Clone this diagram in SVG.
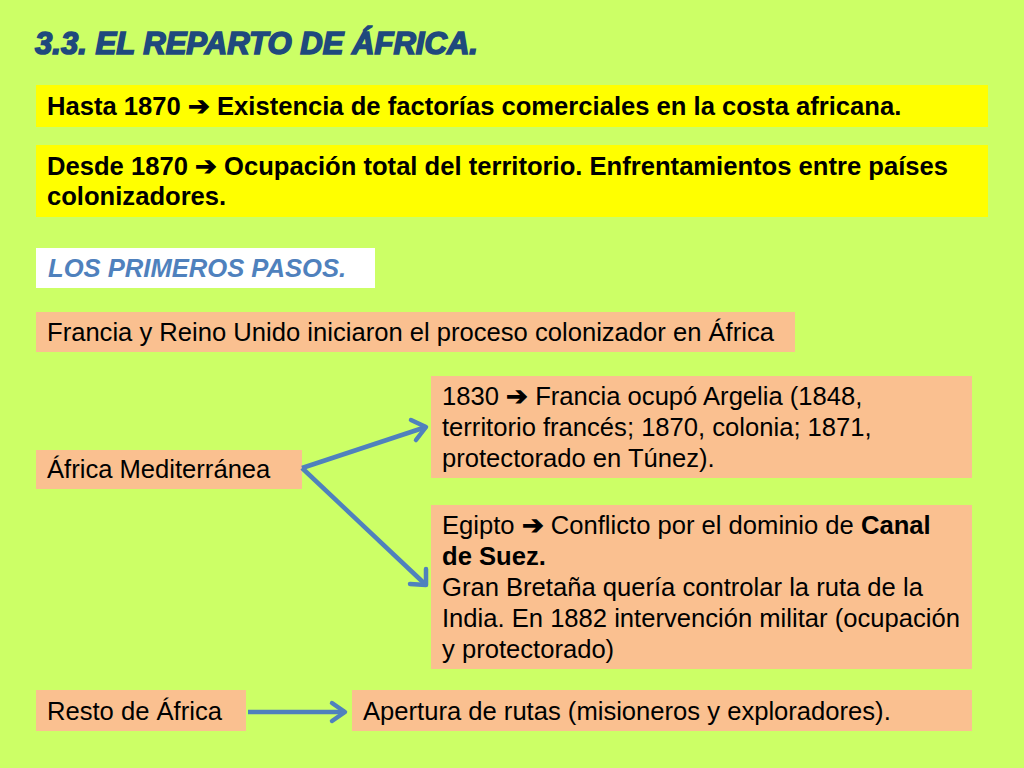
<svg xmlns="http://www.w3.org/2000/svg" width="1024" height="768" viewBox="0 0 1024 768">
<defs>
<style>
.t{font-family:"Liberation Sans",Arial,sans-serif;font-size:25.6px;fill:#000}
.b{font-weight:bold}
.peach{fill:#FAC090}
.yel{fill:#FFFF00}
.conn{stroke:#4F81BD;stroke-width:4.5;fill:none}
.head{stroke:#4F81BD;stroke-width:4.5;fill:none;stroke-linecap:round;stroke-linejoin:round}
</style>
</defs>
<rect width="1024" height="768" fill="#CCFF66"/>
<text x="35" y="54" font-family="'Liberation Sans',Arial,sans-serif" font-size="31" font-weight="bold" font-style="italic" fill="#1F497D" stroke="#1F497D" stroke-width="1.6" textLength="443" lengthAdjust="spacingAndGlyphs">3.3. EL REPARTO DE ÁFRICA.</text>
<g id="hasta">
<rect class="yel" x="36" y="85" width="952" height="42"/>
<text class="t b" x="47" y="115">Hasta 1870 ➔ Existencia de factorías comerciales en la costa africana.</text>
</g>
<g id="desde">
<rect class="yel" x="36" y="145" width="952" height="72"/>
<text class="t b" x="47" y="175">Desde 1870 ➔ Ocupación total del territorio. Enfrentamientos entre países</text>
<text class="t b" x="47" y="205">colonizadores.</text>
</g>
<g id="pasos">
<rect x="36" y="248" width="339" height="40" fill="#FFFFFF"/>
<text class="t b" x="48" y="277" font-style="italic" style="fill:#4F81BD">LOS PRIMEROS PASOS.</text>
</g>
<g id="francia">
<rect class="peach" x="36" y="312" width="759" height="40"/>
<text class="t" x="47" y="341">Francia y Reino Unido iniciaron el proceso colonizador en África</text>
</g>
<g id="mediterranea">
<rect class="peach" x="36" y="450" width="266" height="39"/>
<text class="t" x="47" y="478">África Mediterránea</text>
</g>
<g id="argelia">
<rect class="peach" x="431" y="376" width="541" height="102"/>
<text class="t" x="442" y="405">1830 <tspan class="b">➔</tspan> Francia ocupó Argelia (1848,</text>
<text class="t" x="442" y="436">territorio francés; 1870, colonia; 1871,</text>
<text class="t" x="442" y="467">protectorado en Túnez).</text>
</g>
<g id="egipto">
<rect class="peach" x="431" y="505" width="541" height="164"/>
<text class="t" x="442" y="534">Egipto <tspan class="b">➔</tspan> Conflicto por el dominio de <tspan class="b">Canal</tspan></text>
<text class="t b" x="442" y="565">de Suez.</text>
<text class="t" x="442" y="596">Gran Bretaña quería controlar la ruta de la</text>
<text class="t" x="442" y="627">India. En 1882 intervención militar (ocupación</text>
<text class="t" x="442" y="658">y protectorado)</text>
</g>
<g id="resto">
<rect class="peach" x="36" y="690" width="210" height="41"/>
<text class="t" x="47" y="720">Resto de África</text>
</g>
<g id="apertura">
<rect class="peach" x="352" y="690" width="620" height="41"/>
<text class="t" x="363" y="720">Apertura de rutas (misioneros y exploradores).</text>
</g>
<g id="connectors">
<line class="conn" x1="302" y1="468" x2="426" y2="427"/>
<polyline class="head" points="411,420 426,427 416,440"/>
<line class="conn" x1="302" y1="468" x2="426" y2="585"/>
<polyline class="head" points="426,569 426,585 410,584"/>
<line class="conn" x1="248" y1="712" x2="345" y2="712"/>
<polyline class="head" points="332,703 345,712 332,721"/>
</g>
</svg>
